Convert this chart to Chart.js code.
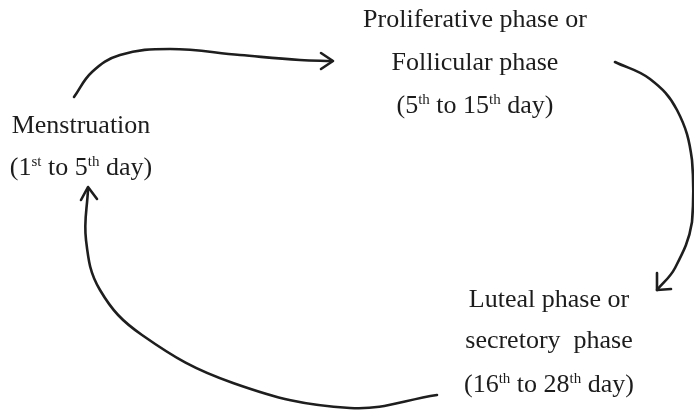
<!DOCTYPE html>
<html>
<head>
<meta charset="utf-8">
<script src="https://cdn.jsdelivr.net/npm/chart.js@4/dist/chart.umd.min.js"></script>
<style>
  html, body { margin: 0; padding: 0; background: #fff; }
  #wrap { width: 694px; height: 412px; }
</style>
</head>
<body>
<div id="wrap"><canvas id="cycle"></canvas></div>
<script>
// curve points (x, y in a 694 x 412 frame)
const topArrow = [[74, 97], [92, 72], [120, 55], [170, 49], [240, 55], [300, 60], [332, 61]];
const rightArrow = [[615, 62], [650, 79], [677, 110], [692, 160], [692, 222], [675, 268], [657, 290]];
const bottomArrow = [[437, 395], [350, 408], [233, 383], [142, 335], [100, 290], [86, 240], [88, 189]];

// arrow heads: wing, tip, wing
const topHead = [[321, 53], [333, 61], [321, 69]];
const rightHead = [[657, 273], [657, 290], [671, 289]];
const leftHead = [[81, 200], [88, 187], [97, 199]];

// phase labels, "^" marks a superscript
const phaseLines = [
    ["Proliferative phase or", "Follicular phase", "(5^th to 15^th day)"],
    ["Menstruation", "(1^st to 5^th day)"],
    ["Luteal phase or", "secretory  phase", "(16^th to 28^th day)"]
];
const phaseX = [475, 81, 549];
const phaseBaselines = [[27, 70, 113], [133, 175], [307, 348, 392]];

const toXY = (pts) => pts.map(p => ({ x: p[0], y: p[1] }));

function curve(pts, tension) 
{
    return {
        data: toXY(pts),
        showLine: true,
        borderColor: '#1e1e1e',
        borderWidth: 2.6,
        pointRadius: 0,
        tension: tension,
        borderCapStyle: 'round',
        borderJoinStyle: 'round'
    };
}

function splitSup(line) 
{
    // "(5^th to" -> [{t:"(5"}, {t:"th", sup:true}, {t:" to"}]
    const parts = [];
    const re = /\^([a-z]+)/g;
    let last = 0, m;
    while ((m = re.exec(line)) !== null) 
    {
        if (m.index > last) parts.push({ t: line.slice(last, m.index) });
        parts.push({ t: m[1], sup: true });
        last = re.lastIndex;
    }
    if (last < line.length) parts.push({ t: line.slice(last) });
    return parts;
}

const labelPlugin = {
    id: 'phaseLabels',
    afterDatasetsDraw(chart) 
    {
        const ctx = chart.ctx, sx = chart.scales.x, sy = chart.scales.y;
        const mainFont = '26px "Liberation Serif", "Times New Roman", serif';
        const supFont = '15px "Liberation Serif", "Times New Roman", serif';
        ctx.save();
        ctx.fillStyle = '#1c1c1c';
        ctx.textBaseline = 'alphabetic';
        ctx.textAlign = 'left';

        phaseLines.forEach((lines, i) => {
            lines.forEach((line, j) => {
                const parts = splitSup(line);
                let width = 0;
                parts.forEach(p => {
                    ctx.font = p.sup ? supFont : mainFont;
                    p.w = ctx.measureText(p.t).width;
                    width += p.w;
                });
                let x = sx.getPixelForValue(phaseX[i]) - width / 2;
                const y = sy.getPixelForValue(phaseBaselines[i][j]);
                parts.forEach(p => {
                    ctx.font = p.sup ? supFont : mainFont;
                    ctx.fillText(p.t, x, p.sup ? y - 9 : y);
                    x += p.w;
                });
            });
        });
        ctx.restore();
    }
};

new Chart(document.getElementById('cycle'), {
    type: 'scatter',
    data: {
        datasets: [
            curve(topArrow, 0.4),
            curve(rightArrow, 0.4),
            curve(bottomArrow, 0.4),
            curve(topHead, 0),
            curve(rightHead, 0),
            curve(leftHead, 0)
        ]
    },
    options: {
        responsive: true,
        maintainAspectRatio: false,
        animation: false,
        layout: { padding: 0 },
        plugins: {
            legend: { display: false },
            tooltip: { enabled: false }
        },
        scales: {
            x: { type: 'linear', min: 0, max: 694, display: false },
            y: { type: 'linear', min: 0, max: 412, reverse: true, display: false }
        },
        clip: false
    },
    plugins: [labelPlugin]
});
</script>
</body>
</html>
